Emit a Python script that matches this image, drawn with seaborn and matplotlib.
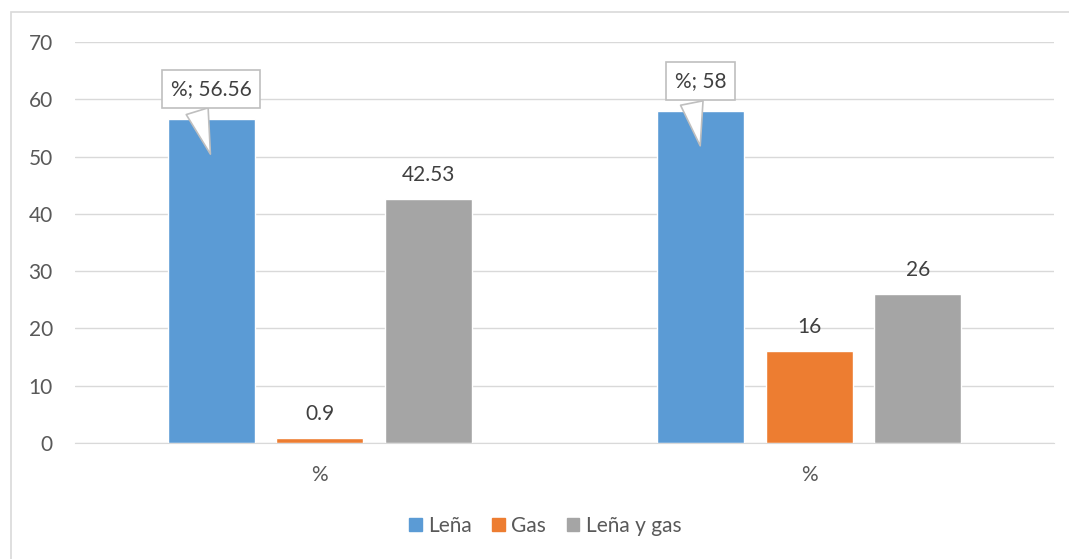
import matplotlib
matplotlib.use("Agg")
import matplotlib.pyplot as plt
import matplotlib.patches as mpatches
import numpy as np
import pandas as pd
import seaborn as sns

# data
group_labels = ["%", "%"]
series_names = ["Leña", "Gas", "Leña y gas"]
lena = [56.56, 58]
gas = [0.9, 16]
lena_gas = [42.53, 26]
series_colors = ["#5B9BD5", "#ED7D31", "#A5A5A5"]

sns.set_style("white")
plt.rcParams["font.family"] = ["Lato", "DejaVu Sans"]

rows = []
for name, values in zip(series_names, [lena, gas, lena_gas]):
    for i, v in enumerate(values):
        rows.append({"grupo": i, "serie": name, "valor": v})
df = pd.DataFrame(rows)

fig = plt.figure(figsize=(10.69, 5.59), dpi=100)
ax = fig.add_axes([75 / 1069, 1 - 443 / 559, (1054 - 75) / 1069, (443 - 42) / 559])

sns.barplot(
    data=df, x="grupo", y="valor", hue="serie", hue_order=series_names,
    palette=series_colors, width=0.665, gap=0.2, ax=ax, legend=False,
    saturation=1,
)

grid_c = "#D9D9D9"
text_c = "#595959"
fs = 15
ax.set_xlim(-0.5, 1.5)
ax.set_ylim(0, 70)
ax.set_yticks(np.arange(0, 71, 10))
ax.yaxis.grid(True, color=grid_c, linewidth=1)
ax.set_axisbelow(True)
for side in ["left", "right", "top"]:
    ax.spines[side].set_visible(False)
ax.spines["bottom"].set_color(grid_c)
ax.set_xlabel("")
ax.set_ylabel("")
ax.set_xticks(range(len(group_labels)))
ax.set_xticklabels(group_labels)
ax.set_xticks([-0.5, 1.5], minor=True)
ax.tick_params(axis="x", which="major", length=0, pad=16, labelsize=fs, labelcolor=text_c)
ax.tick_params(axis="x", which="minor", length=34, color=grid_c, width=1)
ax.tick_params(axis="y", length=0, pad=16, labelsize=fs, labelcolor=text_c)

# plain labels for Gas and Leña y gas
for cont in ax.containers[1:]:
    ax.bar_label(cont, labels=[f"{b.get_height():g}" for b in cont],
                 padding=10, fontsize=fs, color="#404040")

# callout labels for Leña
for bar, lab in zip(ax.containers[0], group_labels):
    h = bar.get_height()
    xc = bar.get_x() + bar.get_width() / 2
    ax.annotate(
        f"{lab}; {h:g}", xy=(xc, h - 6.6), xytext=(xc, h + 5.2),
        ha="center", va="center", fontsize=fs, color="#404040",
        bbox=dict(boxstyle="square,pad=0.42", fc="white", ec="#BFBFBF", lw=1.2),
        arrowprops=dict(arrowstyle="wedge,tail_width=1.1,shrink_factor=0.5",
                        fc="white", ec="#BFBFBF", lw=1.2, relpos=(0.28, 0)),
        zorder=5,
    )

handles = [mpatches.Patch(color=c, label=n) for c, n in zip(series_colors, series_names)]
fig.legend(handles=handles, loc="center", bbox_to_anchor=(0.51, 1 - 526 / 559),
           ncol=3, frameon=False, fontsize=fs, handlelength=0.6, handleheight=0.6,
           handletextpad=0.3, columnspacing=1.0, labelcolor=text_c)

fig.patches.append(mpatches.Rectangle((11 / 1069, -0.1), 1.2, 1.1 - 12 / 559,
                                      transform=fig.transFigure, fill=False,
                                      ec=grid_c, lw=1.2))

fig.savefig("out.png", dpi=100)
